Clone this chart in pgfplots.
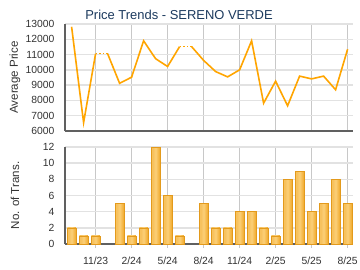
\documentclass[border=0pt]{standalone}
\usepackage{fontspec}
\setmainfont{Liberation Sans}
\usepackage{pgfplots}
\pgfplotsset{compat=1.18}
\definecolor{gridh}{HTML}{E2E2E2}
\definecolor{gridv}{HTML}{C8C8C8}
\definecolor{axisc}{HTML}{606060}
\definecolor{lineo}{HTML}{FFA500}
\definecolor{titlec}{HTML}{1C3A5E}
\definecolor{txt}{HTML}{333333}
\definecolor{barL}{HTML}{F7C25E}
\definecolor{barM}{HTML}{FBCF78}
\definecolor{barR}{HTML}{EFA21C}
\definecolor{barE}{HTML}{E39A1C}
\pgfdeclarehorizontalshading{barshade}{100bp}{color(0bp)=(barL); color(35bp)=(barL); color(50bp)=(barM); color(80bp)=(barR); color(100bp)=(barR)}
\pgfplotsset{
 common/.style={
  scale only axis, width=288bp,
  xmin=-0.55, xmax=23.45,
  xtick={2,5,8,11,14,17,20,23},
  axis x line*=bottom, axis y line*=left,
  axis line style={axisc, line width=1.2bp, -},
  x grid style={gridv, line width=0.8bp},
  y grid style={gridh, line width=1.5bp},
  xmajorgrids, ymajorgrids,
  ytick style={draw=none},
  tick label style={font=\fontsize{10.4}{12}\selectfont, text=txt},
  /pgf/number format/assume math mode=true,
  /pgf/number format/set thousands separator={},
  scaled y ticks=false,
  yticklabel style={xshift=-7bp},
  unbounded coords=jump,
  every axis y label/.style={at={(axis description cs:-0.174,0.5)}, rotate=90, anchor=center, font=\fontsize{11.6}{13}\selectfont, text=txt},
 },
 gbar/.style={ybar, bar shift=0pt, bar width=8.7bp, draw=barE, line width=0.6bp, shade, shading=barshade, forget plot},
}
\begin{document}
\begin{tikzpicture}
\path[use as bounding box, fill=white] (0,0) rectangle (360bp,-270bp);
\node[font=\fontsize{13}{15}\selectfont, text=titlec] at (179bp,-15bp) {Price Trends - SERENO VERDE};
\begin{axis}[common, at={(65bp,-24bp)}, anchor=north west, height=107bp,
  ymin=6000, ymax=13000, ytick={6000,7000,...,13000},
  xticklabels={}, xtick style={draw=none},
  ylabel={Average Price}]
\addplot[lineo, line width=1.6bp] coordinates {
(0,12820)(1,6550)(2,11060)(2.5,nan)(3,11060)(4,9120)(5,9520)(6,11900)(7,10730)(8,10220)(9,11520)(9.5,nan)
(10,11520)(11,10620)(12,9890)(13,9540)(14,10000)(15,11900)(16,7820)(17,9260)(18,7650)(19,9590)(20,9410)(21,9590)(22,8700)(23,11350)};
\addplot[lineo, line width=1.6bp, dotted] coordinates {(2,11060)(3,11060)};
\addplot[lineo, line width=1.6bp, dotted] coordinates {(9,11520)(10,11520)};
\end{axis}
\begin{axis}[common, at={(65bp,-147bp)}, anchor=north west, height=97bp,
  ymin=0, ymax=12, ytick={0,2,...,12},
  xticklabels={11/23,2/24,5/24,8/24,11/24,2/25,5/25,8/25},
  xtick align=outside, major tick length=4bp, xtick style={gridv, line width=0.8bp},
  xticklabel style={yshift=-5bp},
  ylabel={No. of Trans.}]
\addplot[gbar] coordinates {(0,2)};
\addplot[gbar] coordinates {(1,1)};
\addplot[gbar] coordinates {(2,1)};
\addplot[gbar] coordinates {(4,5)};
\addplot[gbar] coordinates {(5,1)};
\addplot[gbar] coordinates {(6,2)};
\addplot[gbar] coordinates {(7,12)};
\addplot[gbar] coordinates {(8,6)};
\addplot[gbar] coordinates {(9,1)};
\addplot[gbar] coordinates {(11,5)};
\addplot[gbar] coordinates {(12,2)};
\addplot[gbar] coordinates {(13,2)};
\addplot[gbar] coordinates {(14,4)};
\addplot[gbar] coordinates {(15,4)};
\addplot[gbar] coordinates {(16,2)};
\addplot[gbar] coordinates {(17,1)};
\addplot[gbar] coordinates {(18,8)};
\addplot[gbar] coordinates {(19,9)};
\addplot[gbar] coordinates {(20,4)};
\addplot[gbar] coordinates {(21,5)};
\addplot[gbar] coordinates {(22,8)};
\addplot[gbar] coordinates {(23,5)};
\end{axis}
\end{tikzpicture}
\end{document}
